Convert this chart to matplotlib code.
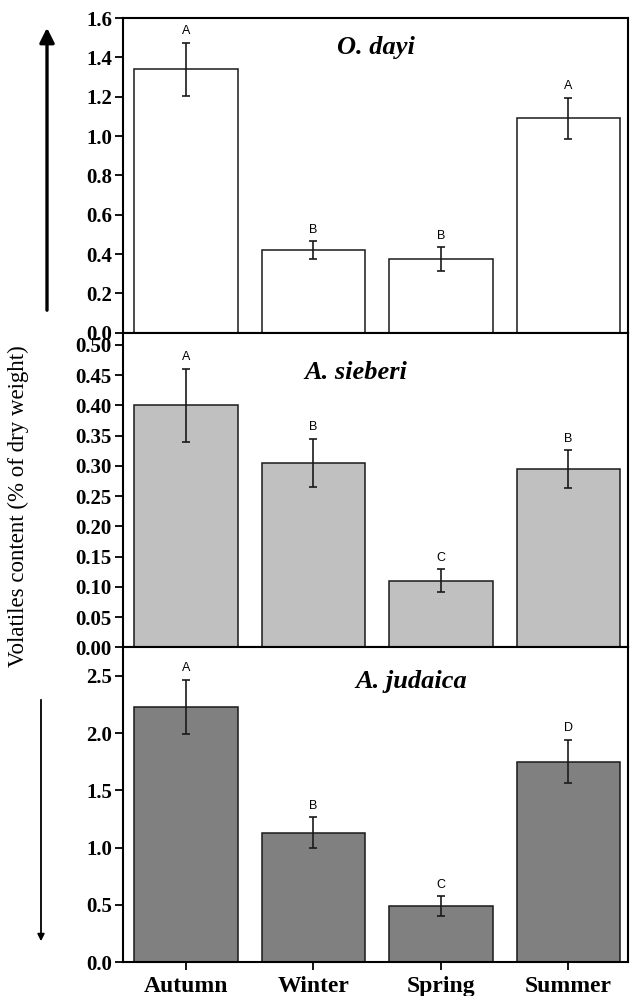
import matplotlib
matplotlib.use('Agg')
import matplotlib.pyplot as plt

seasons = ['Autumn', 'Winter', 'Spring', 'Summer']

# O. dayi
dayi_mean = [1.34, 0.42, 0.375, 1.09]
dayi_err = [0.135, 0.045, 0.06, 0.105]
dayi_letters = ['A', 'B', 'B', 'A']

# A. sieberi
sieberi_mean = [0.40, 0.305, 0.11, 0.295]
sieberi_err = [0.06, 0.04, 0.019, 0.031]
sieberi_letters = ['A', 'B', 'C', 'B']

# A. judaica
judaica_mean = [2.23, 1.13, 0.49, 1.75]
judaica_err = [0.235, 0.135, 0.085, 0.19]
judaica_letters = ['A', 'B', 'C', 'D']

panels = [
    ('O. dayi', dayi_mean, dayi_err, dayi_letters, 'white', 1.6,
     [0.0, 0.2, 0.4, 0.6, 0.8, 1.0, 1.2, 1.4, 1.6], '%.1f', (0.50, 0.905)),
    ('A. sieberi', sieberi_mean, sieberi_err, sieberi_letters, '#c0c0c0', 0.52,
     [0.0, 0.05, 0.10, 0.15, 0.20, 0.25, 0.30, 0.35, 0.40, 0.45, 0.50], '%.2f', (0.46, 0.875)),
    ('A. judaica', judaica_mean, judaica_err, judaica_letters, '#808080', 2.75,
     [0.0, 0.5, 1.0, 1.5, 2.0, 2.5], '%.1f', (0.57, 0.89)),
]

serif = 'Liberation Serif'
fig = plt.figure(figsize=(6.3, 9.96), dpi=100)

left = 123 / 630
width = 505 / 630
bottom = 1 - 962 / 996
h = (962 - 18) / 996 / 3

x = range(len(seasons))
for i, (name, mean, err, letters, color, ytop, ticks, fmt, tpos) in enumerate(panels):
    ax = fig.add_axes([left, bottom + (2 - i) * h, width, h])
    ax.bar(x, mean, width=0.81, color=color, edgecolor='#1a1a1a', linewidth=1.1,
           yerr=err, capsize=3.2, error_kw=dict(elinewidth=1.2, capthick=1.2, ecolor='#1a1a1a'))
    for xi, m, e, lab in zip(x, mean, err, letters):
        ax.annotate(lab, (xi, m + e), xytext=(0, 4), textcoords='offset points',
                    ha='center', va='bottom', fontsize=9, family='Liberation Sans')
    ax.set_xlim(-0.494, 3.467)
    ax.set_ylim(0, ytop)
    ax.set_yticks(ticks)
    ax.set_yticklabels([fmt % t for t in ticks], fontsize=15, fontweight='bold', family=serif)
    ax.tick_params(axis='y', direction='out', length=6, width=1.3, pad=2)
    for s in ax.spines.values():
        s.set_linewidth(1.5)
    ax.text(tpos[0], tpos[1], name, transform=ax.transAxes, ha='center', va='center',
            fontsize=19, fontweight='bold', fontstyle='italic', family=serif)
    if i == 2:
        ax.set_xticks(list(x))
        ax.set_xticklabels(seasons, fontsize=17, fontweight='bold', family=serif)
        ax.tick_params(axis='x', direction='out', length=6, width=1.3, pad=4)
    else:
        ax.set_xticks([])

fig.text(18 / 630, 1 - 506 / 996, 'Volatiles content (% of dry weight)', rotation=90,
         ha='center', va='center', fontsize=16.5, family=serif)

# direction arrows
fig.add_artist(matplotlib.patches.FancyArrowPatch(
    (47 / 630, 1 - 313 / 996), (47 / 630, 1 - 25 / 996), transform=fig.transFigure,
    arrowstyle='-|>', mutation_scale=22, lw=2.4, color='black'))
fig.add_artist(matplotlib.patches.FancyArrowPatch(
    (41 / 630, 1 - 697 / 996), (41 / 630, 1 - 944 / 996), transform=fig.transFigure,
    arrowstyle='-|>', mutation_scale=10, lw=1.3, color='black'))

plt.savefig('out.png', dpi=100)
